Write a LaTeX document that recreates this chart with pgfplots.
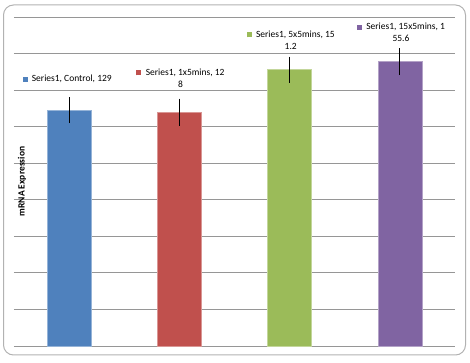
\documentclass[border=0pt]{standalone}
\usepackage{pgfplots}
\pgfplotsset{compat=1.18}
\usepackage{fontspec}
\setmainfont{Carlito}
\definecolor{c1}{HTML}{4F81BD}
\definecolor{c2}{HTML}{C0504D}
\definecolor{c3}{HTML}{9BBB59}
\definecolor{c4}{HTML}{8064A2}
\definecolor{gridc}{RGB}{150,150,150}
\begin{document}
\begin{tikzpicture}[x=1pt,y=1pt]
\useasboundingbox (0,0) rectangle (470,363);
\draw[gray!60, line width=1pt, rounded corners=10pt] (3.5,8) rectangle (465.5,358);
\begin{axis}[
  at={(14pt,17pt)}, anchor=south west,
  scale only axis, width=441pt, height=329pt,
  xmin=-0.5, xmax=3.5, ymin=0, ymax=180,
  ytick={0,20,...,180}, xtick=\empty,
  yticklabels={}, major tick length=0pt,
  axis line style={draw=none}, tick style={draw=none},
  ymajorgrids, grid style={gridc, line width=0.8pt},
  ylabel={mRNA Expression},
  ylabel style={at={(rel axis cs:0.018,0.5)}, anchor=center, font=\fontsize{9.5}{11}\selectfont\bfseries},
  font=\fontsize{9.5}{12}\selectfont,
  clip=false,
]
\addplot[ybar, bar width=0.4, fill=c1, draw=c1!60!white, error bars/.cd, y dir=both, y explicit, error mark=none, error bar style={black, line width=0.8pt}] coordinates {(0,129) +- (0,7.1)};
\addplot[ybar, bar width=0.4, fill=c2, draw=c2!60!white, error bars/.cd, y dir=both, y explicit, error mark=none, error bar style={black, line width=0.8pt}] coordinates {(1,128) +- (0,7.4)};
\addplot[ybar, bar width=0.4, fill=c3, draw=c3!60!white, error bars/.cd, y dir=both, y explicit, error mark=none, error bar style={black, line width=0.8pt}] coordinates {(2,151.2) +- (0,7.1)};
\addplot[ybar, bar width=0.4, fill=c4, draw=c4!60!white, error bars/.cd, y dir=both, y explicit, error mark=none, error bar style={black, line width=0.8pt}] coordinates {(3,155.6) +- (0,7.4)};
\node[align=center, inner sep=0pt, font=\fontsize{9.5}{12}\selectfont] at (axis cs:-0.018,146) {\textcolor{c1}{\rule{5pt}{5pt}}\ \ Series1, Control, 129};
\node[align=center, inner sep=0pt, font=\fontsize{9.5}{12}\selectfont] at (axis cs:1.01,146.6) {\textcolor{c2}{\rule{5pt}{5pt}}\ \ Series1, 1x5mins, 12\\8};
\node[align=center, inner sep=0pt, font=\fontsize{9.5}{12}\selectfont] at (axis cs:2.01,167.4) {\textcolor{c3}{\rule{5pt}{5pt}}\ \ Series1, 5x5mins, 15\\1.2};
\node[align=center, inner sep=0pt, font=\fontsize{9.5}{12}\selectfont] at (axis cs:3.01,171.5) {\textcolor{c4}{\rule{5pt}{5pt}}\ \ Series1, 15x5mins, 1\\55.6};
\end{axis}
\end{tikzpicture}
\end{document}
